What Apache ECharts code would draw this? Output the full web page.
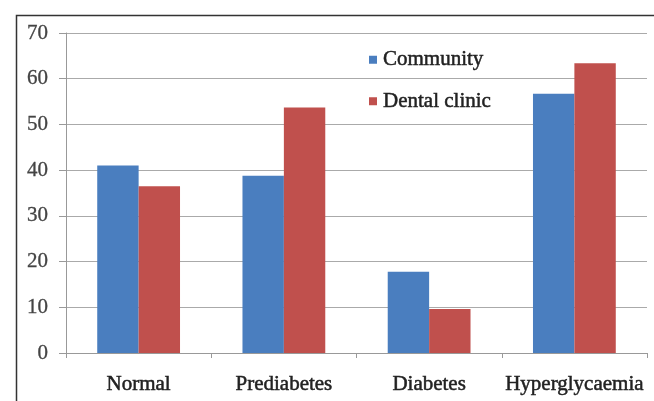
<!DOCTYPE html>
<html><head><meta charset="utf-8">
<script src="https://cdn.jsdelivr.net/npm/echarts@6/dist/echarts.min.js"></script>
<style>html,body{margin:0;padding:0;background:#fff}#c{width:654px;height:401px}</style>
</head><body><div id="c"></div>
<script>
const categories = ['Normal', 'Prediabetes', 'Diabetes', 'Hyperglycaemia'];
const community = [41.0, 38.8, 17.8, 56.7];
const dentalClinic = [36.5, 53.7, 9.6, 63.4];
const yTicks = [0, 10, 20, 30, 40, 50, 60, 70];

const chart = echarts.init(document.getElementById('c'));
const font = '"Liberation Serif", "Times New Roman", serif';
const heavy = { textBorderColor: '#222', textBorderWidth: 0.5 };
chart.setOption({
  animation: false,
  graphic: [{
    type: 'rect', left: 14, top: 13, z: -1,
    shape: { width: 700, height: 450 },
    style: { fill: 'none', stroke: '#333', lineWidth: 1.5 }
  }],
  legend: {
    orient: 'vertical', left: 364, top: 44, itemGap: 20,
    itemWidth: 8, itemHeight: 8, icon: 'rect',
    textStyle: Object.assign({ fontFamily: font, fontSize: 21, color: '#222', padding: [0, 0, 0, 1] }, heavy),
    data: ['Community', 'Dental clinic']
  },
  grid: { left: 66, right: 7, top: 33, bottom: 48, containLabel: false },
  xAxis: {
    type: 'category', data: categories,
    axisLine: { lineStyle: { color: '#999' } },
    axisTick: { show: true, interval: 0, length: 5, lineStyle: { color: '#999' } },
    axisLabel: Object.assign({ interval: 0, fontFamily: font, fontSize: 21, color: '#222', margin: 21 }, heavy)
  },
  yAxis: {
    type: 'value', min: yTicks[0], max: yTicks[yTicks.length - 1], interval: 10,
    axisLine: { show: true, lineStyle: { color: '#999' } },
    axisTick: { show: true, length: 7, lineStyle: { color: '#999' } },
    splitLine: { lineStyle: { color: '#aaa', width: 1.2 } },
    axisLabel: { fontFamily: font, fontSize: 21, color: '#444', margin: 18, textBorderColor: '#444', textBorderWidth: 0.3 }
  },
  series: [
    { name: 'Community', type: 'bar', data: community, barGap: '0%', barCategoryGap: '43%',
      itemStyle: { color: '#4a7ebf' } },
    { name: 'Dental clinic', type: 'bar', data: dentalClinic, barGap: '0%', barCategoryGap: '43%',
      itemStyle: { color: '#c0504d' } }
  ]
});
</script></body></html>
